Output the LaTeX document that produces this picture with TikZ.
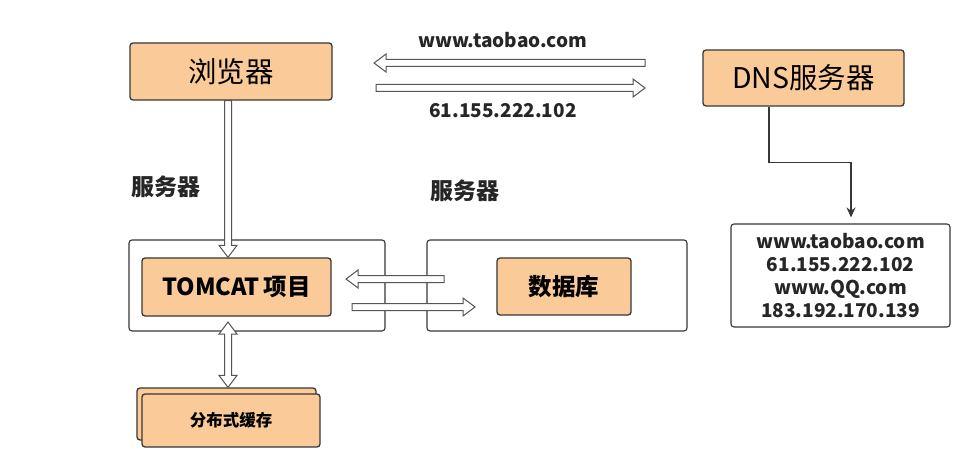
\documentclass[tikz,border=0pt]{standalone}
\usepackage{fontspec}
\setmainfont{Noto Sans CJK SC}
\usetikzlibrary{calc,arrows.meta}
\definecolor{boxfill}{RGB}{250,202,152}
\definecolor{linec}{RGB}{55,55,55}
\definecolor{arrowc}{RGB}{85,85,85}
\tikzset{
  box/.style={draw=linec, line width=1.3pt, rounded corners=3pt, fill=boxfill, inner sep=0pt},
  frame/.style={draw=linec, line width=1.1pt, rounded corners=3pt, fill=white, inner sep=0pt},
  lbl/.style={font=\fontsize{19}{22.7}\selectfont\bfseries, text=black!85, align=center},
  hollow/.style={draw=arrowc, line width=1pt, fill=white, line join=miter,
    to path={let \p1=(\tikztostart), \p2=(\tikztotarget), \n1={atan2(\y2-\y1,\x2-\x1)} in
      ($(\p1)+({\n1+90}:3.5pt)$) -- ($(\p2)+({\n1+180}:12pt)+({\n1+90}:3.5pt)$)
      -- ($(\p2)+({\n1+180}:12pt)+({\n1+90}:9pt)$) -- (\p2)
      -- ($(\p2)+({\n1+180}:12pt)+({\n1-90}:9pt)$) -- ($(\p2)+({\n1+180}:12pt)+({\n1-90}:3.5pt)$)
      -- ($(\p1)+({\n1-90}:3.5pt)$) -- cycle}},
  hollowboth/.style={draw=arrowc, line width=1pt, fill=white, line join=miter,
    to path={let \p1=(\tikztostart), \p2=(\tikztotarget), \n1={atan2(\y2-\y1,\x2-\x1)} in
      (\p1) -- ($(\p1)+(\n1:12pt)+({\n1+90}:9pt)$) -- ($(\p1)+(\n1:12pt)+({\n1+90}:3.5pt)$)
      -- ($(\p2)+({\n1+180}:12pt)+({\n1+90}:3.5pt)$) -- ($(\p2)+({\n1+180}:12pt)+({\n1+90}:9pt)$)
      -- (\p2)
      -- ($(\p2)+({\n1+180}:12pt)+({\n1-90}:9pt)$) -- ($(\p2)+({\n1+180}:12pt)+({\n1-90}:3.5pt)$)
      -- ($(\p1)+(\n1:12pt)+({\n1-90}:3.5pt)$) -- ($(\p1)+(\n1:12pt)+({\n1-90}:9pt)$) -- cycle}}
}
\begin{document}
\begin{tikzpicture}[x=1pt, y=-1pt]
  \useasboundingbox[fill=white] (0,0) rectangle (956,457);
  % browser and DNS
  \node[box, minimum width=202pt, minimum height=57pt, font=\fontsize{28.5}{28.5}\selectfont] (browser) at (231,71.5) {浏览器};
  \node[box, minimum width=201pt, minimum height=56pt, font=\fontsize{28.5}{28.5}\selectfont] (dns) at (803.5,78) {DNS服务器};
  \node[frame, minimum width=219pt, minimum height=103pt, lbl] (records) at (840.5,275.5)
    {www.taobao.com\\61.155.222.102\\www.QQ.com\\183.192.170.139};
  \node[lbl] (url) at (503,40) {www.taobao.com};
  \node[lbl] (ip) at (503,111) {61.155.222.102};
  \coordinate (reqR) at (645,63);
  \coordinate (reqL) at (374,63);
  \coordinate (ansL) at (376,88);
  \coordinate (ansR) at (645,88);
  \draw[hollow] (reqR) to (reqL);
  \draw[hollow] (ansL) to (ansR);
  \draw[linec, line width=1.3pt, -{Stealth[length=10pt, width=9pt]}]
    ([xshift=-34.5pt]dns.south) -- ++(0,56) -| ([xshift=10.5pt, yshift=6pt]records.north);
  % servers
  \node[lbl, font=\fontsize{23}{23}\selectfont\bfseries] (srvA) at (166,187) {服务器};
  \node[lbl, font=\fontsize{23}{23}\selectfont\bfseries] (srvB) at (465,191) {服务器};
  \node[frame, minimum width=256pt, minimum height=91pt] (web) at (257,285.5) {};
  \node[frame, minimum width=260pt, minimum height=91pt] (dbsrv) at (557,285.5) {};
  \node[box, minimum width=189pt, minimum height=58pt, font=\fontsize{23.5}{23.5}\selectfont\bfseries] (tomcat) at (236.5,287) {TOMCAT\,项目};
  \node[box, minimum width=134pt, minimum height=57pt, font=\fontsize{23.5}{23.5}\selectfont\bfseries] (db) at (564,286.5) {数据库};
  \draw[hollow] ([xshift=-3pt]browser.south) to ([xshift=-8.5pt]tomcat.north);
  \coordinate (qryR) at (444,279);
  \coordinate (qryL) at (346,279);
  \coordinate (resL) at (352,307);
  \coordinate (resR) at (475,307);
  \draw[hollow] (qryR) to (qryL);
  \draw[hollow] (resL) to (resR);
  % cache
  \node[box, minimum width=179pt, minimum height=52pt] (cacheback) at (226.5,414) {};
  \node[box, minimum width=178pt, minimum height=53pt, font=\fontsize{16.5}{16.5}\selectfont\bfseries] (cache) at (231,420.5) {分布式缓存};
  \draw[hollowboth] ([xshift=-29pt, yshift=9.5pt]web.south) to ([xshift=1.5pt]cacheback.north);
\end{tikzpicture}
\end{document}
